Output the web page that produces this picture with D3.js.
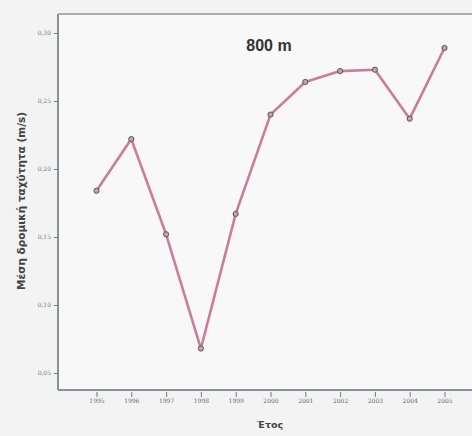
<!DOCTYPE html>
<html><head><meta charset="utf-8">
<script src="https://cdn.jsdelivr.net/npm/d3@7"></script>
<style>body{margin:0;background:#f3f3f3;} svg{display:block;}</style>
</head><body>
<script>
const years = ["1995","1996","1997","1998","1999","2000","2001","2002","2003","2004","2005"];
const speeds = [0.184, 0.222, 0.152, 0.068, 0.167, 0.240, 0.264, 0.272, 0.273, 0.237, 0.289];
const yTicks = [0.05, 0.10, 0.15, 0.20, 0.25, 0.30];
const title = "800 m";
const xLabel = "Έτος";
const yLabel = "Μέση δρομική ταχύτητα (m/s)";

const W = 472, H = 436;
const svg = d3.select("body").append("svg").attr("width", W).attr("height", H);
svg.append("rect").attr("width", W).attr("height", H).attr("fill", "#f3f3f3");

const pLeft = 58, pTop = 14, pBottom = 390, pRight = 480;
svg.append("rect").attr("x", pLeft).attr("y", pTop).attr("width", pRight-pLeft).attr("height", pBottom-pTop)
  .attr("fill", "#f8f8f8");

const x = d3.scalePoint().domain(years).range([96.5, 444.5]);
const y = d3.scaleLinear().domain([0.05, 0.30]).range([373, 33]);

svg.append("line").attr("x1", pLeft).attr("x2", pRight).attr("y1", pTop).attr("y2", pTop)
  .attr("stroke", "#9096a0").attr("stroke-width", 1.5);

const fmt = d => d3.format(".2f")(d).replace(".", ",");
const yAxis = svg.append("g").attr("transform", `translate(${pLeft},0)`)
  .call(d3.axisLeft(y).tickValues(yTicks).tickFormat(fmt).tickSize(4).tickPadding(3));
yAxis.select(".domain").attr("d", `M0,${pTop}V${pBottom}`).attr("stroke", "#8a909a").attr("stroke-width", 2);
yAxis.selectAll(".tick line").attr("stroke", "#777").attr("stroke-width", 1);
yAxis.selectAll(".tick text").attr("font-family", "DejaVu Serif, serif").attr("font-size", 6).attr("fill", "#777");

const xAxis = svg.append("g").attr("transform", `translate(0,${pBottom})`)
  .call(d3.axisBottom(x).tickSize(5).tickPadding(4));
xAxis.select(".domain").attr("d", `M${pLeft},0H${pRight}`).attr("stroke", "#8a909a").attr("stroke-width", 2);
xAxis.selectAll(".tick line").attr("stroke", "#777").attr("stroke-width", 1).attr("y1", 2).attr("y2", 7);
xAxis.selectAll(".tick text").attr("font-family", "DejaVu Serif, serif").attr("font-size", 6).attr("fill", "#666");

const line = d3.line().x((d,i) => x(years[i])).y(d => y(d));
svg.append("path").datum(speeds).attr("d", line).attr("fill", "none")
  .attr("stroke", "#c97c9e").attr("stroke-width", 2.6).attr("stroke-linejoin", "round");

svg.selectAll("circle.pt").data(speeds).enter().append("circle").attr("class", "pt")
  .attr("cx", (d,i) => x(years[i])).attr("cy", d => y(d)).attr("r", 2.6)
  .attr("fill", "#c4a4b2").attr("stroke", "#555").attr("stroke-width", 1);

svg.append("text").attr("x", 269).attr("y", 51).attr("text-anchor", "middle")
  .attr("font-family", "Liberation Sans, Arial, sans-serif").attr("font-weight", "bold")
  .attr("font-size", 16).attr("fill", "#333").text(title);

svg.append("text").attr("x", 270).attr("y", 428).attr("text-anchor", "middle")
  .attr("font-family", "DejaVu Sans, sans-serif").attr("font-weight", "bold")
  .attr("font-size", 9.5).attr("fill", "#444").text(xLabel);

svg.append("text").attr("transform", "translate(25,201) rotate(-90)").attr("text-anchor", "middle")
  .attr("font-family", "DejaVu Sans, sans-serif").attr("font-weight", "bold")
  .attr("font-size", 10.5).attr("fill", "#444").text(yLabel);
</script>
</body></html>
